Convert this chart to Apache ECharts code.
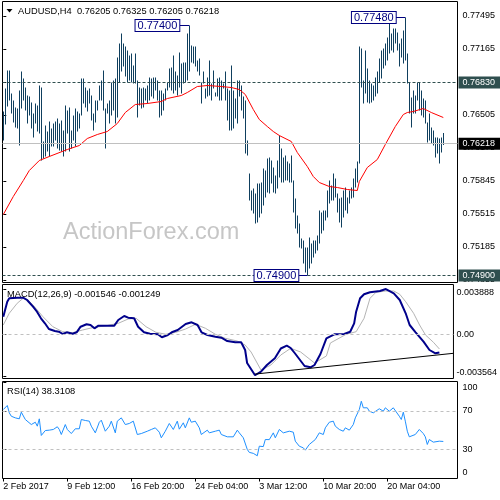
<!DOCTYPE html>
<html><head><meta charset="utf-8">
<script src="https://cdn.jsdelivr.net/npm/echarts@6/dist/echarts.min.js"></script>
<style>html,body{margin:0;padding:0;background:#fff}#c{width:500px;height:500px}</style>
</head><body><div id="c"></div>
<script>
// ---- data ----
const highs = [
0.7654,0.7677,0.7695,0.7695,0.7672,0.7665,0.7658,0.7657,0.7675,0.7694,
0.7687,0.7678,0.7670,0.7669,0.7663,0.7652,0.7662,0.7660,0.7680,0.7678,
0.7624,0.7640,0.7634,0.7644,0.7637,0.7642,0.7644,0.7647,0.7642,0.7645,
0.7635,0.7660,0.7655,0.7658,0.7635,0.7650,0.7657,0.7654,0.7652,0.7687,
0.7687,0.7678,0.7675,0.7677,0.7670,0.7652,0.7665,0.7665,0.7680,0.7685,
0.7695,0.7657,0.7662,0.7665,0.7683,0.7685,0.7687,0.7708,0.7722,0.7732,
0.7722,0.7719,0.7715,0.7710,0.7712,0.7700,0.7712,0.7685,0.7678,0.7677,
0.7678,0.7677,0.7680,0.7688,0.7687,0.7688,0.7688,0.7685,0.7675,0.7675,
0.7672,0.7677,0.7683,0.7697,0.7698,0.7710,0.7694,0.7690,0.7713,0.7702,
0.7703,0.7703,0.7732,0.7740,0.7720,0.7719,0.7719,0.7705,0.7707,0.7683,
0.7694,0.7677,0.7688,0.7705,0.7682,0.7695,0.7673,0.7687,0.7688,0.7685,
0.7682,0.7694,0.7677,0.7675,0.7700,0.7675,0.7667,0.7685,0.7685,0.7680,
0.7669,0.7665,0.7625,0.7592,0.7575,0.7577,0.7572,0.7582,0.7582,0.7583,
0.7597,0.7595,0.7607,0.7608,0.7605,0.7598,0.7590,0.7605,0.7630,0.7617,
0.7608,0.7610,0.7604,0.7602,0.7610,0.7585,0.7567,0.7550,0.7542,0.7527,
0.7525,0.7518,0.7518,0.7528,0.7522,0.7525,0.7525,0.7530,0.7555,0.7553,
0.7555,0.7555,0.7575,0.7585,0.7580,0.7592,0.7587,0.7572,0.7567,0.7568,
0.7575,0.7578,0.7568,0.7575,0.7578,0.7587,0.7597,0.7604,0.7719,0.7717,
0.7685,0.7715,0.7697,0.7685,0.7682,0.7680,0.7688,0.7694,0.7707,0.7715,
0.7717,0.7722,0.7728,0.7748,0.7732,0.7737,0.7737,0.7733,0.7722,0.7727,
0.7735,0.7748,0.7712,0.7683,0.7668,0.7675,0.7670,0.7683,0.7683,0.7675,
0.7667,0.7665,0.7643,0.7652,0.7638,0.7635,0.7628,0.7628,0.7627,0.7628,
0.76325];
const lows = [
0.7625,0.7641,0.7659,0.7665,0.7652,0.7643,0.7638,0.7637,0.7620,0.7657,
0.7665,0.7655,0.7642,0.7650,0.7637,0.7628,0.7642,0.7634,0.7632,0.7605,
0.7607,0.7609,0.7614,0.7609,0.7619,0.7619,0.7625,0.7617,0.7615,0.7614,
0.7609,0.7614,0.7632,0.7614,0.7617,0.7625,0.7619,0.7634,0.7637,0.7650,
0.7662,0.7658,0.7654,0.7662,0.7645,0.7635,0.7643,0.7655,0.7665,0.7665,
0.7655,0.7617,0.7652,0.7642,0.7650,0.7655,0.7642,0.7648,0.7683,0.7694,
0.7699,0.7689,0.7683,0.7685,0.7683,0.7682,0.7682,0.7648,0.7660,0.7657,
0.7658,0.7665,0.7662,0.7665,0.7669,0.7667,0.7675,0.7665,0.7648,0.7650,
0.7655,0.7665,0.7675,0.7678,0.7675,0.7672,0.7675,0.7670,0.7678,0.7672,
0.7682,0.7683,0.7685,0.7694,0.7703,0.7702,0.7699,0.7694,0.7690,0.7662,
0.7682,0.7667,0.7669,0.7670,0.7665,0.7677,0.7669,0.7669,0.7665,0.7665,
0.7677,0.7665,0.7645,0.7635,0.7635,0.7637,0.7647,0.7642,0.7669,0.7655,
0.7647,0.7612,0.7610,0.7565,0.7555,0.7552,0.7542,0.7543,0.7548,0.7552,
0.7560,0.7568,0.7573,0.7572,0.7582,0.7573,0.7572,0.7577,0.7588,0.7583,
0.7583,0.7585,0.7585,0.7583,0.7583,0.7553,0.7537,0.7532,0.7518,0.7517,
0.7502,0.7493,0.7490,0.7497,0.7502,0.7508,0.7512,0.7515,0.7522,0.7532,
0.7535,0.7545,0.7548,0.7562,0.7565,0.7565,0.7568,0.7553,0.7543,0.7538,
0.7548,0.7555,0.7552,0.7562,0.7567,0.7568,0.7578,0.7583,0.7602,0.7678,
0.7662,0.7672,0.7663,0.7662,0.7663,0.7665,0.7669,0.7672,0.7683,0.7687,
0.7697,0.7700,0.7705,0.7712,0.7715,0.7713,0.7722,0.7715,0.7699,0.7708,
0.7702,0.7705,0.7682,0.7652,0.7638,0.7652,0.7652,0.7665,0.7655,0.7650,
0.7648,0.7642,0.7623,0.7625,0.7622,0.7620,0.7608,0.7612,0.7602,0.7613,
0.76205];
const maLine = [[0,0.7551],[5,0.7569],[10,0.7585],[13,0.7595],[18,0.7605],[23,0.7609],[32,0.7616],[38,0.7620],[42,0.7627],[47,0.7631],[52,0.7634],[57,0.7642],[61,0.7653],[66,0.7661],[72,0.7662],[79,0.7664],[82,0.7667],[89,0.7670],[92,0.7673],[97,0.7679],[102,0.7680],[109,0.7679],[114,0.7678],[118,0.7676],[121,0.7671],[125,0.7656],[128,0.7646],[132,0.7639],[135,0.7634],[138,0.7630],[144,0.7624],[147,0.7613],[152,0.7599],[155,0.7589],[158,0.7583],[163,0.7579],[167,0.7578],[172,0.7576],[177,0.7575],[178,0.7584],[182,0.7598],[187,0.7606],[191,0.7621],[196,0.7639],[200,0.7651],[202,0.7653],[205,0.7654],[210,0.7657],[214,0.7653],[220,0.7648]];
const macdMain = [[0,0.001517],[2,0.002802],[3,0.003094],[7,0.003145],[10,0.003145],[12,0.002948],[13,0.002802],[15,0.002374],[17,0.001945],[18,0.001808],[19,0.00138],[21,0.000951],[23,0.000463],[26,0.000291],[28,0.000231],[30,0.000034],[32,0.00018],[33,0.000094],[35,0.00006],[37,0.00018],[39,0.00066],[42,0.000866],[44,0.000806],[46,0.000523],[48,0.000746],[52,0.000746],[56,0.000746],[57,0.000866],[58,0.001234],[61,0.001577],[63,0.001431],[66,0.00138],[68,0.00066],[71,0.00018],[74,0.00006],[78,0.000009],[80,-0.000249],[83,-0.000051],[85,0.00018],[88,0.000377],[92,0.000891],[95,0.001037],[98,0.000806],[100,0.00018],[103,-0.000051],[107,-0.000197],[110,-0.000283],[113,-0.000566],[117,-0.000677],[120,-0.000677],[122,-0.001337],[123,-0.002451],[127,-0.0035],[130,-0.003197],[133,-0.002622],[137,-0.002048],[140,-0.001208],[143,-0.000968],[145,-0.001166],[147,-0.001594],[152,-0.002708],[155,-0.00282],[157,-0.002622],[160,-0.00168],[163,-0.000334],[167,0.000009],[172,0.000034],[175,0.000231],[177,0.000951],[178,0.001945],[180,0.003094],[182,0.003437],[185,0.003608],[190,0.003719],[193,0.003888],[197,0.003522],[200,0.002948],[203,0.001808],[205,0.000806],[208,0.00018],[212,-0.000626],[215,-0.001337],[218,-0.00162],[220,-0.001546]];
const macdSignal = [[0,0.000806],[3,0.001808],[7,0.002665],[10,0.003094],[12,0.003008],[15,0.00252],[20,0.001517],[25,0.00066],[30,0.000231],[35,0.000146],[40,0.000377],[45,0.000574],[52,0.000746],[58,0.000951],[63,0.00132],[67,0.00138],[72,0.00066],[77,0.00018],[82,0.000009],[87,0.00018],[92,0.000463],[97,0.000866],[102,0.000523],[107,0.000009],[112,-0.000334],[118,-0.000566],[122,-0.000908],[125,-0.001508],[130,-0.003051],[135,-0.002622],[140,-0.001765],[145,-0.001191],[150,-0.001508],[157,-0.002451],[163,-0.001851],[165,-0.000737],[173,0.000009],[178,0.000231],[182,0.00138],[185,0.003094],[188,0.003608],[193,0.003719],[197,0.003719],[200,0.003437],[203,0.002802],[207,0.001808],[210,0.000806],[213,-0.000051],[217,-0.000677],[220,-0.001249]];
const macdTrend = [[127,-0.0034],[227.1,-0.00162]];
const rsiLine = [[0,71.3],[2,75.5],[3,67.9],[4,64.4],[6,62.7],[8,61.7],[9,68.6],[11,61],[12,59.3],[14,55.8],[16,58.2],[17,54.1],[18,61.7],[19,44.5],[21,49.6],[23,50],[25,50.7],[27,53.5],[28,50.7],[29,45.5],[31,55.8],[32,50.7],[34,46.5],[36,51.4],[38,51.4],[39,61],[41,60],[43,59.3],[44,54.1],[46,47.2],[48,58.2],[49,60.3],[51,48.9],[53,54.1],[54,59.3],[56,47.2],[57,59.3],[59,62.7],[61,55.8],[63,56.9],[65,59.3],[67,45.5],[69,46.5],[72,48.9],[74,50.7],[76,52.4],[78,47.9],[79,42.1],[81,48.9],[83,56.9],[85,50.7],[87,59.3],[88,51],[90,57.6],[91,52.4],[93,62.7],[94,58.2],[96,59.3],[98,52.4],[99,45.5],[100,44.5],[102,50],[103,47.2],[106,48.9],[108,50],[109,45.5],[112,43.1],[113,44.5],[115,43.1],[117,50],[118,47.2],[120,42.1],[122,30],[123,27],[125,26],[127,23.5],[128,33.4],[130,33],[131,40.3],[132,42.1],[133,40.2],[135,47.2],[136,42.1],[138,50.7],[140,47.2],[141,48.9],[143,48.9],[145,47.9],[146,38.6],[148,33.4],[150,31.7],[151,29.3],[153,35.2],[154,33.4],[156,40.3],[158,47.2],[160,45.5],[161,52.4],[163,58.2],[165,59.3],[166,54.1],[168,50.7],[170,48.9],[171,52.4],[173,50],[175,55.8],[176,62.7],[178,71.3],[179,79.9],[180,73.1],[182,73.1],[183,69.6],[185,67.9],[186,69.6],[188,72.1],[190,69.6],[191,73.1],[193,69.6],[195,73.1],[196,71.3],[198,64.4],[199,61],[200,68.6],[201,59.3],[202,48.9],[203,43.1],[204,43.1],[206,45.5],[208,50.7],[210,46.5],[211,43.1],[212,35.2],[213,40.3],[215,37.6],[216,36.4],[218,38.6],[220,38.3108]];
const priceTicks = [0.74855,0.75185,0.75515,0.75845,0.76175,0.76505,0.76835,0.77165,0.77495];
const macdTicks = [-0.003564, 0, 0.003888];
const rsiTicks = [0, 30, 70, 100];
const rsiLevels = [30, 70];
const xTickIdx = [0, 32, 64, 96, 128, 160, 192];
const xTickLabels = ['2 Feb 2017','9 Feb 12:00','16 Feb 20:00','24 Feb 04:00','3 Mar 12:00','10 Mar 20:00','20 Mar 04:00'];
const lastPrice = 0.76218;
const levelHigh = 0.76830;
const levelLow = 0.74900;
const swingMarks = [[88, 93, 0.77400], [196.2, 201, 0.77480], [147.5, 152, 0.74900]];
const header = 'AUDUSD,H4  0.76205 0.76325 0.76205 0.76218';
const macdTitle = 'MACD(12,26,9) -0.001546 -0.001249';
const rsiTitle = 'RSI(14) 38.3108';

// ---- chart ----
const FF = 'Liberation Sans';
const chart = echarts.init(document.getElementById('c'), null, {renderer: 'canvas'});
const XMIN = -0.4, XMAX = 227.1;
const gridBase = {left: 2.5, width: 455, show: true, borderColor: '#000', borderWidth: 1, backgroundColor: 'transparent'};
const hiddenX = (gi) => ({type: 'value', gridIndex: gi, min: XMIN, max: XMAX, show: false});
const lbl = {color: '#000', fontSize: 9, fontFamily: FF};

const swingLines = swingMarks.map(m => [
  {coord: [m[0], m[2]], lineStyle: {color: '#000080', type: 'solid', width: 1},
   label: {show: true, position: 'start', distance: 0, formatter: m[2].toFixed(5),
     color: '#000080', fontSize: 11, fontFamily: FF, backgroundColor: '#fff',
     borderColor: '#000080', borderWidth: 1, padding: [0, 2, -1, 2], lineHeight: 12}},
  {coord: [m[1], m[2]]}
]);
const levelLine = (v, color, type, bg) => [
  {coord: [XMIN, v], lineStyle: {color: color, type: type, width: 1},
   label: {show: true, position: 'end', distance: 1, formatter: v.toFixed(5),
     color: '#fff', backgroundColor: bg, fontSize: 9, fontFamily: FF, padding: [2, 8, 1, 4]}},
  {coord: [XMAX, v]}
];
const plainLevel = (v, color) => [
  {coord: [XMIN, v], lineStyle: {color: color, type: [3, 3], width: 1}, label: {show: false}},
  {coord: [XMAX, v]}
];

chart.setOption({
  animation: false,
  backgroundColor: '#fff',
  grid: [
    Object.assign({top: 1.5, height: 281}, gridBase),
    Object.assign({top: 284.5, height: 94}, gridBase),
    Object.assign({top: 381.5, height: 97}, gridBase)
  ],
  xAxis: [hiddenX(0), hiddenX(1), {
    type: 'value', gridIndex: 2, min: XMIN, max: XMAX,
    axisLine: {show: false}, splitLine: {show: false},
    axisTick: {show: true, customValues: xTickIdx, length: 3, lineStyle: {color: '#000'}},
    axisLabel: Object.assign({customValues: xTickIdx, align: 'left', margin: 4, hideOverlap: false,
      formatter: v => xTickLabels[xTickIdx.indexOf(Math.round(v))] || ''}, lbl)
  }],
  yAxis: [
    {type: 'value', gridIndex: 0, position: 'right', min: 0.7483, max: 0.7764, scale: true,
     axisLine: {show: false}, splitLine: {show: false},
     axisTick: {show: true, customValues: priceTicks, length: 3, lineStyle: {color: '#000'}},
     axisLabel: Object.assign({customValues: priceTicks, margin: 5, hideOverlap: false, formatter: v => v.toFixed(5)}, lbl)},
    {type: 'value', gridIndex: 1, position: 'right', min: -0.0037794, max: 0.0042764, scale: true,
     axisLine: {show: false}, splitLine: {show: false},
     axisTick: {show: true, customValues: macdTicks, length: 3, lineStyle: {color: '#000'}},
     axisLabel: Object.assign({customValues: macdTicks, margin: 3, hideOverlap: false,
       formatter: v => v > 0.001 ? '{t|' + v.toFixed(6) + '}' : (v < -0.001 ? '{b|' + v.toFixed(6) + '}' : '0.00'),
       rich: {t: Object.assign({padding: [6, 0, 0, 0]}, lbl), b: Object.assign({padding: [0, 0, 6, 0]}, lbl)}}, lbl)},
    {type: 'value', gridIndex: 2, position: 'right', min: 0, max: 100.31,
     axisLine: {show: false}, splitLine: {show: false},
     axisTick: {show: true, customValues: rsiTicks, length: 3, lineStyle: {color: '#000'}},
     axisLabel: Object.assign({customValues: rsiTicks, margin: 5, hideOverlap: false,
       formatter: v => v > 99 ? '{t|100}' : (v < 1 ? '{b|0}' : String(Math.round(v))),
       rich: {t: Object.assign({padding: [12, 0, 0, 0]}, lbl), b: Object.assign({padding: [0, 0, 11, 0]}, lbl)}}, lbl)}
  ],
  graphic: [
    {type: 'text', z: 0, style: {x: 63, y: 233, text: 'ActionForex.com', fill: '#c6c6c6', font: '23.5px "Liberation Sans"', textVerticalAlign: 'middle', verticalAlign: 'middle'}},
    {type: 'polygon', z: 10, shape: {points: [[6.5, 9], [12.5, 9], [9.5, 12.5]]}, style: {fill: '#000'}},
    {type: 'text', z: 10, style: {x: 18, y: 11, text: header, fill: '#000', font: '9.3px "Liberation Sans"', textVerticalAlign: 'middle', verticalAlign: 'middle'}},
    {type: 'text', z: 10, style: {x: 7, y: 294.5, text: macdTitle, fill: '#000', font: '9.3px "Liberation Sans"', textVerticalAlign: 'middle', verticalAlign: 'middle'}},
    {type: 'text', z: 10, style: {x: 7, y: 391, text: rsiTitle, fill: '#000', font: '9.3px "Liberation Sans"', textVerticalAlign: 'middle', verticalAlign: 'middle'}}
  ],
  series: [
    {type: 'custom', name: 'bars', xAxisIndex: 0, yAxisIndex: 0,
     data: highs.map((h, i) => [i, h, lows[i]]),
     encode: {x: 0, y: [1, 2]},
     renderItem: (params, api) => {
       const i = api.value(0);
       const a = api.coord([i, api.value(1)]);
       const b = api.coord([i, api.value(2)]);
       const x = Math.round(a[0]) + 0.5;
       return {type: 'line', shape: {x1: x, y1: a[1], x2: x, y2: b[1]}, style: {stroke: '#0f3f5e', lineWidth: 1}};
     }},
    {type: 'line', name: 'MA', xAxisIndex: 0, yAxisIndex: 0, data: maLine, symbol: 'none',
     lineStyle: {color: '#ff0000', width: 1}, z: 3,
     markLine: {symbol: ['none', 'none'], silent: true, animation: false,
       data: [
         levelLine(lastPrice, '#c0c0c0', 'solid', '#000'),
         levelLine(levelHigh, '#2f4f4f', [3, 2], '#2f4f4f'),
         levelLine(levelLow, '#2f4f4f', [3, 2], '#2f4f4f')
       ].concat(swingLines)}},
    {type: 'line', name: 'Signal', xAxisIndex: 1, yAxisIndex: 1, data: macdSignal, symbol: 'none',
     lineStyle: {color: '#b4b4b4', width: 1},
     markLine: {symbol: ['none', 'none'], silent: true, data: [plainLevel(0, '#c0c0c0')]}},
    {type: 'line', name: 'MACD', xAxisIndex: 1, yAxisIndex: 1, data: macdMain, symbol: 'none',
     lineStyle: {color: '#00008b', width: 2}},
    {type: 'line', name: 'Trend', xAxisIndex: 1, yAxisIndex: 1, data: macdTrend, symbol: 'none',
     lineStyle: {color: '#000', width: 1}},
    {type: 'line', name: 'RSI', xAxisIndex: 2, yAxisIndex: 2, data: rsiLine, symbol: 'none',
     lineStyle: {color: '#1e90ff', width: 1},
     markLine: {symbol: ['none', 'none'], silent: true, data: rsiLevels.map(v => plainLevel(v, '#c0c0c0'))}}
  ]
});
</script></body></html>
